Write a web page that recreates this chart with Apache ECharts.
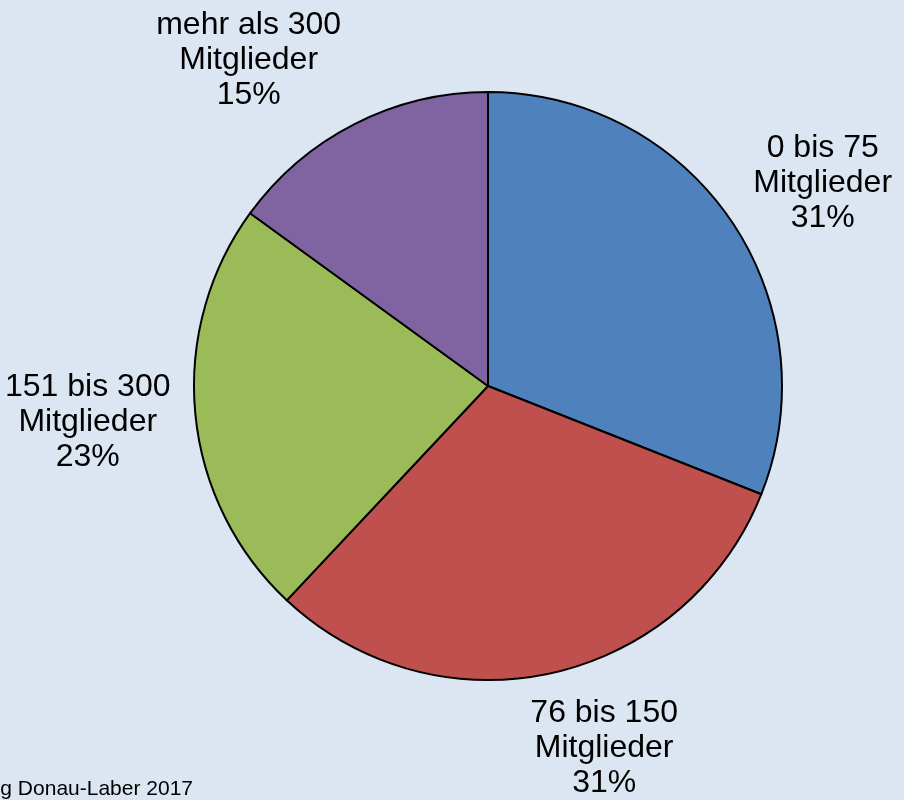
<!DOCTYPE html>
<html>
<head>
<meta charset="utf-8">
<script src="https://cdn.jsdelivr.net/npm/echarts@6/dist/echarts.min.js"></script>
<style>
html,body{margin:0;padding:0;background:#DCE6F2;}
#c{width:904px;height:800px;}
</style>
</head>
<body>
<div id="c"></div>
<script>
var categories = ['0 bis 75\nMitglieder', '76 bis 150\nMitglieder', '151 bis 300\nMitglieder', 'mehr als 300\nMitglieder'];
var shares = [31, 31, 23, 15];
var colors = ['#4F81BD', '#C0504D', '#9BBB59', '#8064A2'];
var sourceText = 'Quelle: Befragung Donau-Laber 2017';

// label placement style (distance from centre and small nudges per label)
var labelDistance = 395;
var labelNudge = [[8, 19], [30, -23], [-7, -1], [-60, 26]];

var cx = 488, cy = 386, R = 294;
var total = shares.reduce(function (a, b) { return a + b; }, 0);

var chart = echarts.init(document.getElementById('c'), null, {renderer: 'canvas'});
chart.setOption({
  backgroundColor: '#DCE6F2',
  animation: false,
  graphic: [{
    type: 'text',
    x: 193, y: 789,
    style: {
      text: sourceText,
      align: 'right',
      verticalAlign: 'middle',
      fill: '#000',
      font: '21px Arial, "Liberation Sans", sans-serif'
    }
  }],
  series: [{
    type: 'pie',
    center: [cx, cy],
    radius: [0, R],
    startAngle: 90,
    clockwise: true,
    avoidLabelOverlap: false,
    itemStyle: {borderColor: '#000', borderWidth: 2},
    label: {
      show: true,
      position: 'outside',
      formatter: '{b}\n{d}%',
      color: '#000',
      fontSize: 32,
      lineHeight: 35,
      fontFamily: 'Arial, "Liberation Sans", sans-serif'
    },
    labelLine: {show: false},
    labelLayout: function (p) {
      var i = p.dataIndex;
      var before = 0;
      for (var k = 0; k < i; k++) before += shares[k];
      var mid = (before + shares[i] / 2) / total * Math.PI * 2;
      return {
        x: cx + labelDistance * Math.sin(mid) + labelNudge[i][0],
        y: cy - labelDistance * Math.cos(mid) + labelNudge[i][1],
        align: 'center',
        verticalAlign: 'middle'
      };
    },
    emphasis: {disabled: true},
    data: categories.map(function (c, i) {
      return {name: c, value: shares[i], itemStyle: {color: colors[i]}};
    })
  }]
});
</script>
</body>
</html>
